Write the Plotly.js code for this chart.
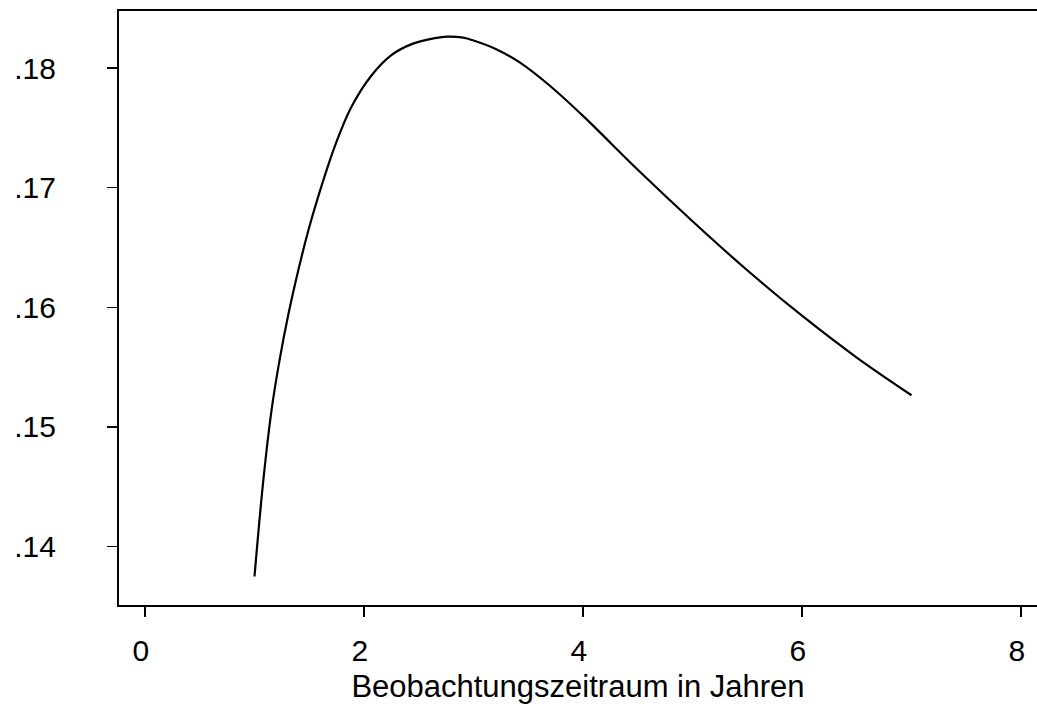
<!DOCTYPE html>
<html>
<head>
<meta charset="utf-8">
<script src="https://cdn.plot.ly/plotly-3.0.1.min.js"></script>
<style>html,body{margin:0;padding:0;background:#fff;}#chart{width:1037px;height:706px;}</style>
</head>
<body>
<div id="chart"></div>
<script>
const years = [1.0, 1.08, 1.157, 1.233, 1.309, 1.4, 1.491, 1.583, 1.735, 1.888, 2.07, 2.253, 2.436, 2.648, 2.758, 2.907, 3.0, 3.212, 3.425, 3.7, 4.0, 4.5, 5.0, 5.5, 6.0, 6.5, 7.0];
const values = [0.1375, 0.1455, 0.1515, 0.1558, 0.1594, 0.1631, 0.1664, 0.1693, 0.1735, 0.1768, 0.1794, 0.1811, 0.1820, 0.1825, 0.18263, 0.18254, 0.1823, 0.18156, 0.18045, 0.1785, 0.1760, 0.1715, 0.1672, 0.1631, 0.1593, 0.1558, 0.15265];
const xTicks = [0, 2, 4, 6, 8];
const xTickText = ['0\u00a0', '2\u00a0', '4\u00a0', '6\u00a0', '8\u00a0'];
const yTicks = [0.14, 0.15, 0.16, 0.17, 0.18];
const yTickText = ['.14', '.15', '.16', '.17', '.18'];
const xTitle = 'Beobachtungszeitraum in Jahren';

const trace = {
  x: years, y: values, type: 'scatter', mode: 'lines',
  line: {color: '#000', width: 2.2, shape: 'spline', smoothing: 1},
  hoverinfo: 'skip'
};
const layout = {
  width: 1037, height: 706,
  margin: {l: 119, r: 0, t: 11, b: 101},
  paper_bgcolor: '#fff', plot_bgcolor: '#fff',
  showlegend: false,
  font: {family: '"Liberation Sans", Arial, sans-serif', color: '#000', size: 30},
  xaxis: {
    range: [-0.2374, 8.146], tickvals: xTicks, ticktext: xTickText,
    showgrid: false, zeroline: false, showline: true, linecolor: '#000', linewidth: 2,
    mirror: true, ticks: 'outside', ticklen: 10, tickwidth: 1.5, tickcolor: '#000',
    ticklabelstandoff: 8,
    tickfont: {size: 30},
    title: {text: xTitle, font: {size: 31}, standoff: 9}
  },
  yaxis: {
    range: [0.13512, 0.18477], tickvals: yTicks, ticktext: yTickText,
    showgrid: false, zeroline: false, showline: true, linecolor: '#000', linewidth: 2,
    ticks: 'outside', ticklen: 10, tickwidth: 1.5, tickcolor: '#000',
    ticklabelstandoff: 45,
    tickfont: {size: 30}
  }
};
Plotly.newPlot('chart', [trace], layout, {staticPlot: true, displayModeBar: false});
</script>
</body>
</html>
